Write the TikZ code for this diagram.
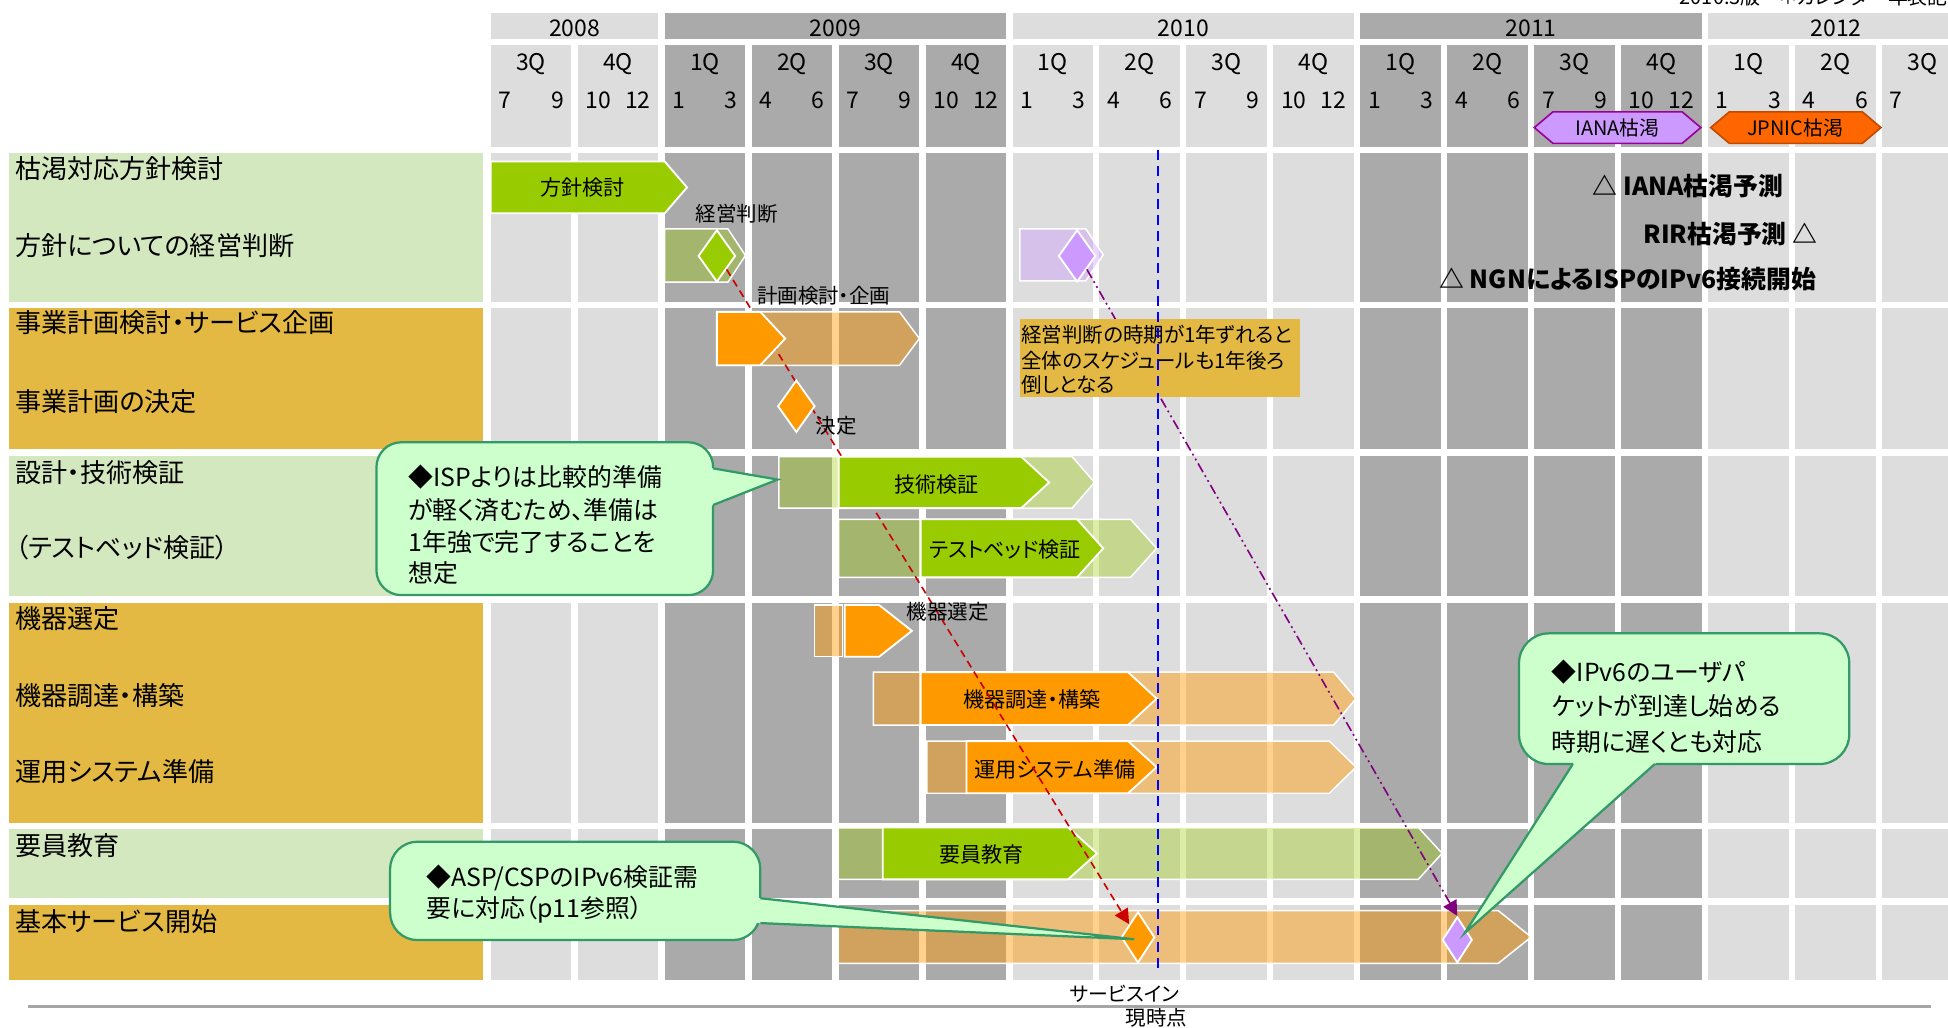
\documentclass[tikz,border=0pt]{standalone}
\usepackage{fontspec}
\setmainfont{Noto Sans CJK JP}[RawFeature={+palt}]
\usetikzlibrary{shapes.geometric,arrows.meta,calc}
\definecolor{gridL}{HTML}{DDDDDD}
\definecolor{gridD}{HTML}{AAAAAA}
\definecolor{lblG}{HTML}{D3E8BF}
\definecolor{lblY}{HTML}{E3B843}
\definecolor{barG}{HTML}{99CC00}
\definecolor{barO}{HTML}{FF9900}
\definecolor{barP}{HTML}{CC99FF}
\definecolor{calF}{HTML}{CCFFCC}
\definecolor{calD}{HTML}{339966}
\definecolor{ianaF}{HTML}{CC99FF}
\definecolor{ianaB}{HTML}{990099}
\definecolor{jpnicF}{HTML}{FF6600}
\definecolor{jpnicB}{HTML}{C04A00}
\definecolor{redA}{HTML}{CC0000}
\definecolor{purA}{HTML}{800080}
\definecolor{lineB}{HTML}{0000FF}
\definecolor{ruleG}{HTML}{A6A6A6}
\newcommand\pentbar[6]{\path[#1] (#2,#5) -- (#3,#5) -- (#4,{(#5+#6)/2}) -- (#3,#6) -- (#2,#6) -- cycle;}
\tikzset{
  fsz/.style n args={3}{inner sep=0pt, font=\fontsize{#1}{#1}\selectfont, text height=#2pt, text depth=#3pt},
  hd/.style={fsz={18.5}{16.28}{2.22}},
  lbl/.style={fsz={21}{18.48}{2.52}, anchor=west},
  btxt/.style={fsz={17}{14.96}{2.04}},
  stxt/.style={fsz={16.5}{14.52}{1.98}},
  tsmall/.style={fsz={16}{14.08}{1.92}},
  ctxt/.style={fsz={20}{17.6}{2.4}, anchor=west},
  ntxt/.style={fsz={16.5}{14.52}{1.98}, anchor=west},
  btitle/.style={fsz={20}{17.6}{2.4}, font={\fontsize{20}{20}\selectfont\bfseries}},
  hatchG/.style={fill=barG, fill opacity=0.35, draw=white, line width=1.2pt},
  hatchO/.style={fill=barO, fill opacity=0.45, draw=white, line width=1.2pt},
  hatchP/.style={fill=barP, fill opacity=0.4, draw=white, line width=1.2pt},
  solidG/.style={fill=barG, draw=white, line width=1.5pt},
  solidO/.style={fill=barO, draw=white, line width=1.5pt},
  dia/.style={shape=diamond, draw=white, line width=1.5pt, inner sep=0pt},
  redc/.style={draw=redA, line width=1.3pt, dash pattern=on 6pt off 4pt, -{Triangle[length=12pt,width=12pt]}},
  purc/.style={draw=purA, line width=1.3pt, dash pattern=on 8pt off 3pt on 1.5pt off 3pt on 1.5pt off 3pt, -{Triangle[length=12pt,width=12pt]}},
  nowline/.style={draw=lineB, line width=1.3pt, dash pattern=on 8pt off 5pt},
  calbody/.style={fill=calF, draw=calD, line width=1.8pt, rounded corners=22pt},
  calline/.style={draw=calD, line width=1.8pt, line join=miter},
}
\begin{document}
\begin{tikzpicture}[x=1pt,y=-1pt]
\useasboundingbox (0,0) rectangle (1568,827);
\fill[white] (0,0) rectangle (1568,827);

% ---------- label column ----------
\fill[lblG] (7.5,123.5) rectangle (389,243);
\fill[lblY] (7.5,248) rectangle (389,361.7);
\fill[lblG] (7.5,367) rectangle (389,479.8);
\fill[lblY] (7.5,485.7) rectangle (389,662.2);
\fill[lblG] (7.5,667.6) rectangle (389,723.1);
\fill[lblY] (7.5,728.5) rectangle (389,789);

% ---------- year bars ----------
\foreach \xa/\xb/\cc in {395/530/gridL, 535/810/gridD, 815/1090/gridL, 1095/1370/gridD, 1375/1580/gridL}
  \fill[\cc] (\xa,10.2) rectangle (\xb,31.4);
\node[hd] (y2008) at (462.5,22) {2008};
\node[hd] (y2009) at (672.5,22) {2009};
\node[hd] (y2010) at (952.5,22) {2010};
\node[hd] (y2011) at (1232.5,22) {2011};
\node[hd] (y2012) at (1478,22) {2012};

% ---------- quarter columns ----------
\foreach \i/\q/\ma/\mb/\cc in {0/3/7/9/gridL, 1/4/10/12/gridL, 2/1/1/3/gridD, 3/2/4/6/gridD,
   4/3/7/9/gridD, 5/4/10/12/gridD, 6/1/1/3/gridL, 7/2/4/6/gridL, 8/3/7/9/gridL, 9/4/10/12/gridL,
   10/1/1/3/gridD, 11/2/4/6/gridD, 12/3/7/9/gridD, 13/4/10/12/gridD, 14/1/1/3/gridL,
   15/2/4/6/gridL, 16/3/7//gridL} {
  \pgfmathsetmacro\xa{395+70*\i}
  \pgfmathsetmacro\xb{460+70*\i}
  \fill[\cc] (\xa,36.2) rectangle (\xb,118);
  \foreach \ya/\yb in {123.5/243, 248/361.7, 367/479.8, 485.7/662.2, 667.6/723.1, 728.5/789}
    \fill[\cc] (\xa,\ya) rectangle (\xb,\yb);
  \node[hd] (q\i) at ({(\xa+\xb)/2},49.5) {\q Q};
  \node[hd, anchor=west] (ma\i) at ({\xa+6},80.5) {\ma};
  \node[hd, anchor=east] (mb\i) at ({\xb-6},80.5) {\mb};
}

% ---------- top note (cut off by the page edge, as in the source) ----------
\node[anchor=base west, inner sep=0pt, font=\fontsize{16}{16}\selectfont] (topnote) at (1352,4) {2010.3版　＊カレンダー年表記};

% ---------- exhaustion markers ----------
\path[fill=ianaF, draw=ianaB, line width=1.3pt] (1235,102.7) -- (1250,90) -- (1354,90) -- (1369,102.7) -- (1354,115.4) -- (1250,115.4) -- cycle;
\node[tsmall] (iana) at (1302,103) {IANA枯渇};
\path[fill=jpnicF, draw=jpnicB, line width=1.3pt] (1377,102.7) -- (1392,90) -- (1499,90) -- (1514,102.7) -- (1499,115.4) -- (1392,115.4) -- cycle;
\node[tsmall] (jpnic) at (1445,103) {JPNIC枯渇};

\node[btitle, anchor=west] (tIANA) at (1282,150) {△ IANA枯渇予測};
\node[btitle, anchor=east] (tRIR) at (1463,188) {RIR枯渇予測 △};
\node[btitle, anchor=east] (tNGN) at (1462,225) {△ NGNによるISPのIPv6接続開始};

% ---------- row labels ----------
\node[lbl] (L1) at (12,136) {枯渇対応方針検討};
\node[lbl] (L2) at (12,198) {方針についての経営判断};
\node[lbl] (L3) at (12,260) {事業計画検討・サービス企画};
\node[lbl] (L4) at (12,323) {事業計画の決定};
\node[lbl] (L5) at (12,380) {設計・技術検証};
\node[lbl] (L6) at (12,441) {（テストベッド検証）};
\node[lbl] (L7) at (12,498) {機器選定};
\node[lbl] (L8) at (12,560) {機器調達・構築};
\node[lbl] (L9) at (12,621) {運用システム準備};
\node[lbl] (L10) at (12,681) {要員教育};
\node[lbl] (L11) at (12,742) {基本サービス開始};

% ---------- hatched (planned-extension) bars ----------
\pentbar{hatchG}{535}{586}{600}{184.3}{227}
\pentbar{hatchP}{821}{874}{888}{184.3}{226}
\pentbar{hatchO}{577}{724}{740}{251}{294}
\pentbar{hatchG}{627}{863}{881}{367.6}{409}
\pentbar{hatchG}{675}{910}{931}{418}{464.7}
\path[hatchO] (655.5,487) rectangle (678,528.6);
\pentbar{hatchO}{703}{1073.5}{1091.5}{541}{583.6}
\pentbar{hatchO}{746}{1070}{1091.5}{596.5}{638.5}
\pentbar{hatchG}{674.6}{1141.6}{1160.8}{666}{707.8}
\pentbar{hatchO}{674.6}{1206}{1232.5}{733}{775.4}

% ---------- solid bars (lower layer) ----------
\pentbar{solidG}{395}{535}{553}{130}{171.7}
\node[btxt] (bHS) at (469,151) {方針検討};
\pentbar{solidO}{680}{707.6}{734}{487}{528.6}
\pentbar{solidO}{741}{908}{931}{541}{583.6}
\node[btxt] (bKC) at (830.5,563) {機器調達・構築};
\pentbar{solidO}{778}{908}{931}{596.5}{638.5}
\node[btxt] (bUS) at (849,619) {運用システム準備};
\pentbar{solidG}{710.5}{859.7}{883}{666}{707.8}
\node[btxt] (bYK) at (790,688) {要員教育};

% ---------- milestones ----------
\node[dia, fill=barG, minimum width=30pt, minimum height=42pt] (gD) at (577,206) {};
\node[dia, fill=barP, minimum width=30pt, minimum height=42pt] (pD) at (867,206) {};
\node[dia, fill=barO, minimum width=27pt, minimum height=41pt] (svcD) at (916,754.5) {};
\node[dia, fill=barP, minimum width=24pt, minimum height=37pt] (pD2) at (1173,756.5) {};

% ---------- connectors ----------
\draw[redc] (gD.south east) -- (svcD.north west);
\draw[purc] (pD.south east) -- (pD2.north);

% ---------- solid bars (upper layer) ----------
\node[dia, fill=barO, minimum width=30pt, minimum height=42pt] (dD) at (641,327) {};
\pentbar{solidO}{577}{612}{632}{251}{294}
\pentbar{solidG}{675}{822}{844.5}{367.6}{409}
\node[btxt] (bGK) at (754,390) {技術検証};
\pentbar{solidG}{741}{867}{888}{418}{464.7}
\node[btxt] (bTB) at (809,442.5) {テストベッド検証};

% ---------- small labels ----------
\node[stxt] (sKH) at (593,172) {経営判断};
\node[stxt] (sKK) at (663,238) {計画検討・企画};
\node[stxt] (sKT) at (673,343) {決定};
\node[stxt] (sKS) at (763,492) {機器選定};

% ---------- note box ----------
\fill[lblY] (821,257) rectangle (1046.5,319.3);
\node[ntxt] (n1) at (822,269.7) {経営判断の時期が1年ずれると};
\node[ntxt] (n2) at (822,290.3) {全体のスケジュールも1年後ろ};
\node[ntxt] (n3) at (822,310) {倒しとなる};

% ---------- current-time line ----------
\coordinate (nowTop) at (932,121);
\coordinate (nowBot) at (932,781);
\draw[nowline] (nowTop) -- (nowBot);
\node[tsmall] (svcin) at (905,800) {サービスイン};
\node[stxt] (nowlbl) at (931,819) {現時点};

% ---------- bottom rule ----------
\draw[ruleG, line width=2pt] (22.5,810) -- (1554,810);

% ---------- callout 1 ----------
\coordinate (c1a) at (574,377);
\coordinate (c1b) at (574,406.5);
\coordinate (c1tip) at (626,386);
\path[calbody, rounded corners=20pt] (303,356) rectangle (574,479);
\fill[calF] ($(c1a)!-5pt!(c1tip)$) -- (c1tip) -- ($(c1b)!-5pt!(c1tip)$) -- cycle;
\draw[calline] (c1a) -- (c1tip) -- (c1b);
\node[ctxt] (c1l1) at (328.5,383.7) {◆ISPよりは比較的準備};
\node[ctxt] (c1l2) at (328.5,410.5) {が軽く済むため、準備は};
\node[ctxt] (c1l3) at (328.5,436) {1年強で完了することを};
\node[ctxt] (c1l4) at (328.5,461.5) {想定};

% ---------- callout 2 ----------
\coordinate (c2a) at (612,723);
\coordinate (c2b) at (612,743);
\coordinate (c2tip) at (913,756);
\path[calbody] (314,677.5) rectangle (612,756.7);
\fill[calF] ($(c2a)!-5pt!(c2tip)$) -- (c2tip) -- ($(c2b)!-5pt!(c2tip)$) -- cycle;
\draw[calline] (c2a) -- (c2tip) -- (c2b);
\node[ctxt] (c2l1) at (343,705.7) {◆ASP/CSPのIPv6検証需};
\node[ctxt] (c2l2) at (343,731) {要に対応（p11参照）};

% ---------- callout 3 ----------
\coordinate (c3a) at (1266,615);
\coordinate (c3b) at (1332,615);
\coordinate (c3tip) at (1179,751);
\path[calbody, rounded corners=24pt] (1222.7,509.8) rectangle (1488.5,615);
\fill[calF] ($(c3a)!-5pt!(c3tip)$) -- (c3tip) -- ($(c3b)!-5pt!(c3tip)$) -- cycle;
\draw[calline] (c3a) -- (c3tip) -- (c3b);
\node[ctxt] (c3l1) at (1249,540.7) {◆IPv6のユーザパ};
\node[ctxt] (c3l2) at (1249,568.3) {ケットが到達し始める};
\node[ctxt] (c3l3) at (1249,597) {時期に遅くとも対応};
\end{tikzpicture}
\end{document}
